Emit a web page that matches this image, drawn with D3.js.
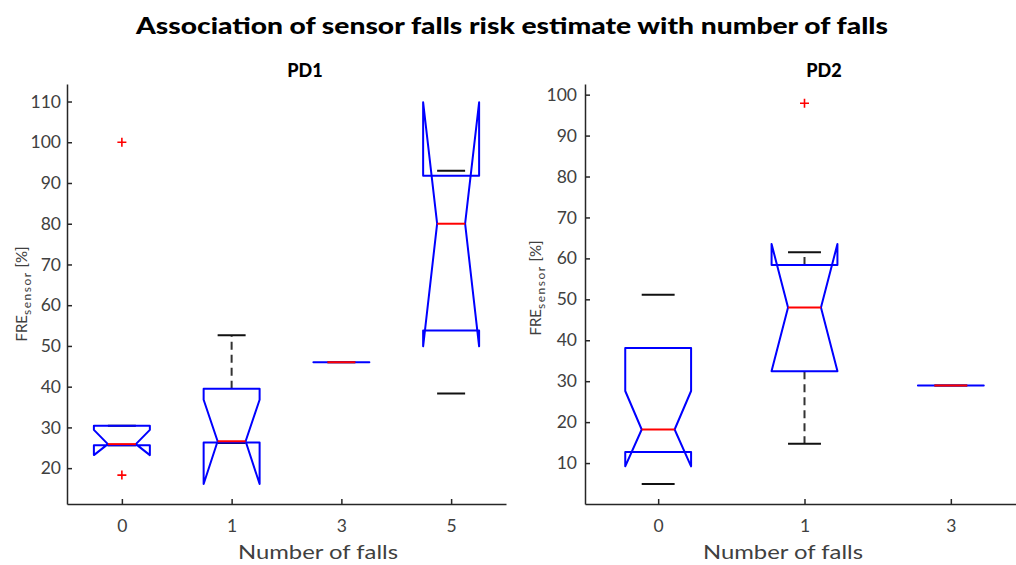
<!DOCTYPE html>
<html>
<head>
<meta charset="utf-8">
<script src="https://cdn.jsdelivr.net/npm/d3@7"></script>
<style>
  body { margin: 0; background: #fff; }
  svg { display: block; font-family: Lato, "Open Sans", sans-serif; }
</style>
</head>
<body>
<div class="app"></div>
<script>
// Data
const categoriesPD1 = ['0', '1', '3', '5'];
const q1PD1 = [25.6, 26.3, 46.0, 53.8];
const q3PD1 = [30.4, 39.5, 46.0, 91.8];
const medianPD1 = [25.9, 26.6, 46.0, 80.0];
const notchLoPD1 = [23.2, 16.1, 46.0, 49.9];
const notchHiPD1 = [29.4, 36.8, 46.0, 109.8];
const whiskerLoPD1 = [25.6, 26.2, 46.0, 38.3];
const whiskerHiPD1 = [30.4, 52.6, 46.0, 93.0];
const showWhiskerPD1 = [true, true, true, false];
const outliersPD1 = [[100, 18.3], [], [], []];
const yTicksPD1 = [20, 30, 40, 50, 60, 70, 80, 90, 100, 110];

const categoriesPD2 = ['0', '1', '3'];
const q1PD2 = [12.7, 32.4, 28.95];
const q3PD2 = [38.1, 58.4, 28.95];
const medianPD2 = [18.2, 48.0, 28.95];
const notchLoPD2 = [9.2, 32.5, 28.95];
const notchHiPD2 = [27.6, 63.5, 28.95];
const whiskerLoPD2 = [4.9, 14.7, 28.95];
const whiskerHiPD2 = [51.1, 61.5, 28.95];
const showWhiskerPD2 = [false, true, true];
const outliersPD2 = [[], [97.9], []];
const yTicksPD2 = [10, 20, 30, 40, 50, 60, 70, 80, 90, 100];


// Setup
const width = 1016;
const height = 565;
const AXIS_COLOR = '#262626';

const svg = d3.select('.app')
  .append('svg')
  .attr('width', width)
  .attr('height', height)
  .attr('viewBox', [0, 0, width, height]);

svg.append('text')
  .attr('x', 512)
  .attr('y', 34)
  .attr('text-anchor', 'middle')
  .attr('font-weight', 900)
  .attr('font-size', 22)
  .attr('textLength', 752)
  .attr('lengthAdjust', 'spacingAndGlyphs')
  .attr('fill', '#000')
  .text('Association of sensor falls risk estimate with number of falls');


const drawPanel = (p) => {
  const x = d3.scalePoint()
    .domain(p.categories)
    .range([p.left, p.right])
    .padding(0.5);

  const y = d3.scaleLinear()
    .domain(p.yDomain)
    .range([504, 84]);

  const g = svg.append('g');
  const half = x.step() * p.boxWidth / 2;
  const inner = half / 2;

  // axes, ticks pointing inward
  const gx = g.append('g')
    .attr('transform', 'translate(0,504)')
    .call(d3.axisBottom(x).tickSizeInner(-5).tickSizeOuter(0).tickPadding(12));
  const gy = g.append('g')
    .attr('transform', `translate(${p.left},0)`)
    .call(d3.axisLeft(y).tickValues(p.yTicks).tickSizeInner(-5).tickSizeOuter(0).tickPadding(p.yPad));
  [gx, gy].forEach(a => {
    a.select('.domain').attr('stroke', AXIS_COLOR).attr('stroke-width', 1.5);
    a.selectAll('.tick line').attr('stroke', AXIS_COLOR).attr('stroke-width', 1.5);
    a.selectAll('.tick text')
      .attr('fill', '#404040')
      .attr('font-size', 17.5)
      .attr('font-family', 'Lato, sans-serif');
  });
  gx.selectAll('.tick text').attr('dy', '0.9em');

  const boxes = p.categories.map((c, i) => ({
    cx: x(c),
    q1: p.q1[i], q3: p.q3[i], med: p.median[i],
    nlo: p.notchLo[i], nhi: p.notchHi[i],
    wlo: p.whiskerLo[i], whi: p.whiskerHi[i],
    show: p.showWhisker[i], out: p.outliers[i]
  }));

  // whiskers
  g.append('g')
    .attr('stroke', '#333')
    .attr('stroke-width', 2)
    .attr('stroke-dasharray', '8,5')
    .selectAll('path')
    .data(boxes.filter(d => d.show))
    .join('path')
    .attr('d', d => `M${d.cx},${y(d.q3)}V${y(d.whi)}M${d.cx},${y(d.q1)}V${y(d.wlo)}`);

  // caps
  g.append('g')
    .attr('stroke', '#111')
    .attr('stroke-width', 2)
    .selectAll('path')
    .data(boxes)
    .join('path')
    .attr('d', d => `M${d.cx - inner},${y(d.whi)}H${d.cx + inner}M${d.cx - inner},${y(d.wlo)}H${d.cx + inner}`);

  // notched boxes
  g.append('g')
    .attr('fill', 'none')
    .attr('stroke', '#0000ff')
    .attr('stroke-width', 2)
    .attr('stroke-linejoin', 'round')
    .selectAll('path')
    .data(boxes)
    .join('path')
    .attr('d', d => {
      const L = d.cx - half, R = d.cx + half;
      const Li = d.cx - inner, Ri = d.cx + inner;
      return `M${L},${y(d.q1)}L${L},${y(d.nlo)}L${Li},${y(d.med)}L${L},${y(d.nhi)}L${L},${y(d.q3)}` +
        `L${R},${y(d.q3)}L${R},${y(d.nhi)}L${Ri},${y(d.med)}L${R},${y(d.nlo)}L${R},${y(d.q1)}Z`;
    });

  // medians
  g.append('g')
    .attr('stroke', '#ff0000')
    .attr('stroke-width', 2)
    .selectAll('line')
    .data(boxes)
    .join('line')
    .attr('x1', d => d.cx - inner)
    .attr('x2', d => d.cx + inner)
    .attr('y1', d => y(d.med))
    .attr('y2', d => y(d.med));

  // outliers
  g.append('g')
    .attr('stroke', '#ff0000')
    .attr('stroke-width', 1.6)
    .selectAll('path')
    .data(boxes.flatMap(d => d.out.map(v => ({ cx: d.cx, v }))))
    .join('path')
    .attr('d', d => `M${d.cx - 4.5},${y(d.v)}H${d.cx + 4.5}M${d.cx},${y(d.v) - 4.5}V${y(d.v) + 4.5}`);

  // labels
  g.append('text')
    .attr('x', p.titleX)
    .attr('y', 77)
    .attr('text-anchor', 'middle')
    .attr('font-weight', 900)
    .attr('font-size', 18)
    .text(p.title);

  g.append('text')
    .attr('x', p.xLabelX)
    .attr('y', 559)
    .attr('text-anchor', 'middle')
    .attr('font-size', 20)
    .attr('fill', '#404040')
    .attr('textLength', 160)
    .attr('lengthAdjust', 'spacingAndGlyphs')
    .text('Number of falls');

  const yl = g.append('text')
    .attr('transform', `translate(${p.yLabelX},${p.yLabelY}) rotate(-90)`)
    .attr('text-anchor', 'middle')
    .attr('font-size', 15)
    .attr('fill', '#404040');
  yl.append('tspan').text('FRE');
  yl.append('tspan')
    .attr('dy', 4)
    .attr('font-size', 12)
    .attr('letter-spacing', 1.5)
    .text('sensor');
  yl.append('tspan').attr('dy', -4).text(' [%]');
};

drawPanel({
  title: 'PD1', titleX: 305, xLabelX: 318, yLabelX: 27, yLabelY: 294, yPad: 6,
  left: 67, right: 506, boxWidth: 0.51, yDomain: [11.2, 114.3],
  categories: categoriesPD1, q1: q1PD1, q3: q3PD1, median: medianPD1,
  notchLo: notchLoPD1, notchHi: notchHiPD1, whiskerLo: whiskerLoPD1, whiskerHi: whiskerHiPD1,
  showWhisker: showWhiskerPD1, outliers: outliersPD1, yTicks: yTicksPD1
});

drawPanel({
  title: 'PD2', titleX: 824, xLabelX: 783, yLabelX: 541, yLabelY: 288, yPad: 8,
  left: 585, right: 1024, boxWidth: 0.45, yDomain: [0, 102.6],
  categories: categoriesPD2, q1: q1PD2, q3: q3PD2, median: medianPD2,
  notchLo: notchLoPD2, notchHi: notchHiPD2, whiskerLo: whiskerLoPD2, whiskerHi: whiskerHiPD2,
  showWhisker: showWhiskerPD2, outliers: outliersPD2, yTicks: yTicksPD2
});
</script>
</body>
</html>
